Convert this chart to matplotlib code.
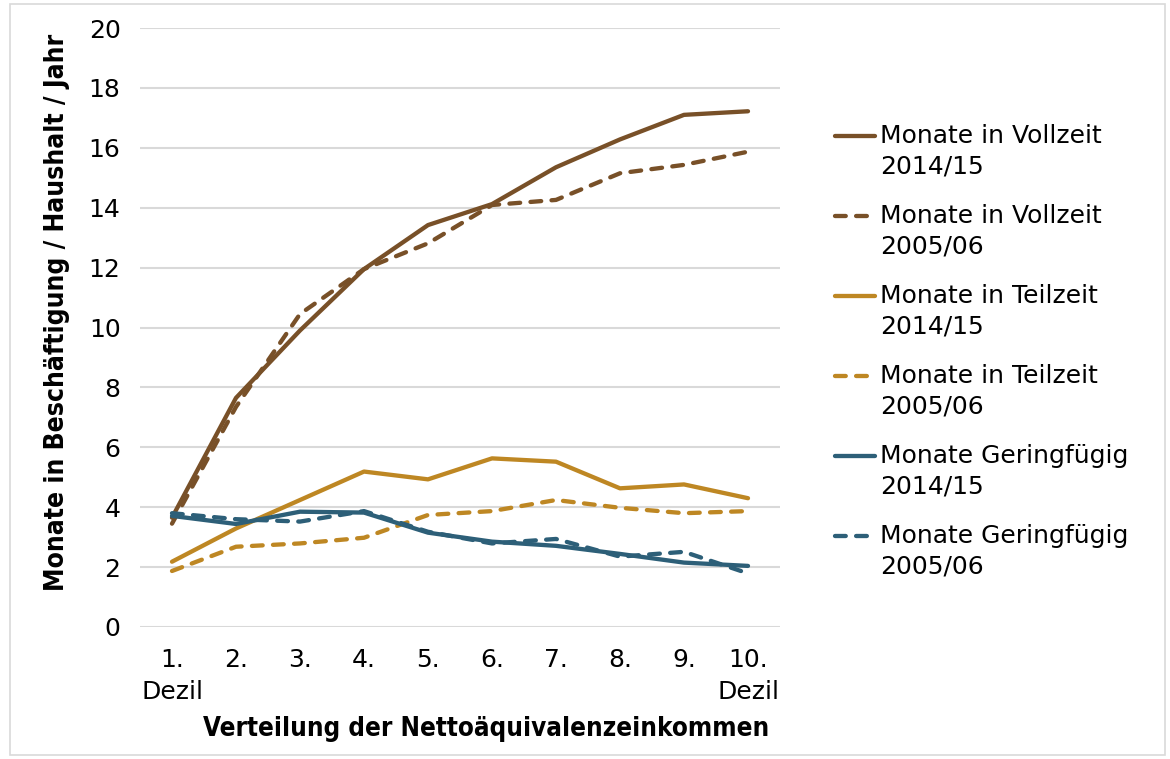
import matplotlib
matplotlib.use("Agg")
import matplotlib.pyplot as plt
from matplotlib.lines import Line2D
from matplotlib.patches import Rectangle

# ---- data ----
deciles = list(range(1, 11))
tick_labels = ["1.\nDezil", "2.", "3.", "4.", "5.", "6.", "7.", "8.", "9.", "10.\nDezil"]
vollzeit_2014 = [3.65, 7.65, 9.9, 11.95, 13.42, 14.12, 15.35, 16.28, 17.1, 17.22]
vollzeit_2005 = [3.45, 7.35, 10.45, 11.95, 12.81, 14.09, 14.26, 15.15, 15.43, 15.87]
teilzeit_2014 = [2.18, 3.29, 4.24, 5.19, 4.93, 5.63, 5.52, 4.63, 4.76, 4.30]
teilzeit_2005 = [1.87, 2.68, 2.79, 2.98, 3.74, 3.87, 4.24, 3.98, 3.80, 3.87]
gering_2014 = [3.71, 3.44, 3.85, 3.82, 3.15, 2.85, 2.71, 2.44, 2.15, 2.04]
gering_2005 = [3.80, 3.60, 3.52, 3.87, 3.18, 2.79, 2.94, 2.35, 2.51, 1.79]

labels = ["Monate in Vollzeit\n2014/15", "Monate in Vollzeit\n2005/06",
          "Monate in Teilzeit\n2014/15", "Monate in Teilzeit\n2005/06",
          "Monate Geringfügig\n2014/15", "Monate Geringfügig\n2005/06"]

BROWN = "#785028"
GOLD = "#BE8723"
BLUE = "#2D5F78"

series = [
    (vollzeit_2014, BROWN, "solid"),
    (vollzeit_2005, BROWN, "dashed"),
    (teilzeit_2014, GOLD, "solid"),
    (teilzeit_2005, GOLD, "dashed"),
    (gering_2014, BLUE, "solid"),
    (gering_2005, BLUE, "dashed"),
]

W, H = 1170, 759
fig = plt.figure(figsize=(W / 100, H / 100), dpi=100)
ax = fig.add_axes([140 / W, 1 - 627 / H, 640 / W, 599 / H])

LW = 3.1
DASH = (2.5, 2.4)
for vals, col, style in series:
    ln, = ax.plot(deciles, vals, color=col, lw=LW, solid_capstyle="round",
                  dash_capstyle="round", solid_joinstyle="round", zorder=3)
    if style == "dashed":
        ln.set_dashes(DASH)

ax.set_xlim(0.5, 10.5)
ax.set_ylim(0, 20)
ax.set_yticks(range(0, 21, 2))
ax.set_xticks(deciles)
ax.set_xticklabels(tick_labels, linespacing=1.45)
ax.grid(axis="y", color="#D9D9D9", lw=1.5, zorder=0)
ax.set_axisbelow(True)
for s in ax.spines.values():
    s.set_visible(False)
ax.tick_params(axis="both", length=0, labelsize=18, colors="black")
ax.tick_params(axis="y", pad=14)
ax.tick_params(axis="x", pad=15)

fig.text(486 / W, 1 - 729 / H, "Verteilung der Nettoäquivalenzeinkommen",
         ha="center", va="center", fontsize=18.6, fontweight="bold",
         family="DejaVu Sans", fontstretch="condensed")
fig.text(57 / W, 1 - 312 / H, "Monate in Beschäftigung / Haushalt / Jahr",
         rotation=90, ha="center", va="center", fontsize=19, fontweight="bold",
         family="DejaVu Sans", fontstretch="condensed")

# legend (manual, handle aligned with first text line)
for i, ((vals, col, style), lab) in enumerate(zip(series, labels)):
    yc = 1 - (136 + 80 * i) / H
    x1 = 867 if style == "dashed" else 875
    ln = Line2D([835 / W, x1 / W], [yc, yc], transform=fig.transFigure,
                color=col, lw=LW, solid_capstyle="round", dash_capstyle="round")
    if style == "dashed":
        ln.set_dashes(DASH)
    fig.add_artist(ln)
    l1, l2 = lab.split("\n")
    fig.text(880 / W, yc, l1, ha="left", va="center", fontsize=18)
    fig.text(880 / W, yc - 30 / H, l2, ha="left", va="center", fontsize=18)

fig.add_artist(Rectangle((10 / W, 4 / H), 1155 / W, 751 / H, transform=fig.transFigure,
                         fill=False, edgecolor="#D9D9D9", lw=1.2))

fig.savefig("out.png", dpi=100)
